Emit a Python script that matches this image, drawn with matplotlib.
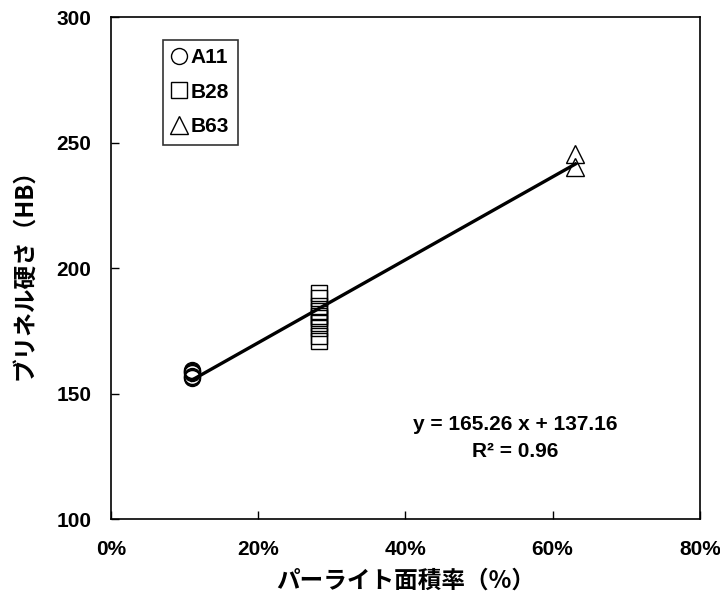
import numpy as np
import matplotlib.pyplot as plt
from matplotlib.ticker import PercentFormatter

plt.rcParams['font.family'] = ['Liberation Sans', 'Noto Sans CJK JP', 'DejaVu Sans']
plt.rcParams['font.weight'] = 'bold'

# Pearlite area ratio (fraction) and Brinell hardness per sample group
a11_ratio = [0.11] * 7
a11_hb = [156.0, 156.5, 157.0, 158.0, 158.5, 159.0, 159.5]

b28_ratio = [0.283] * 10
b28_hb = [171.0, 173.0, 176.0, 178.0, 180.0, 181.0, 183.0, 185.0, 188.0, 190.0]

b63_ratio = [0.631] * 2
b63_hb = [245.6, 240.4]

# Linear fit reported on the chart
slope = 165.26
intercept = 137.16
fit_range = [0.11, 0.631]

fig = plt.figure(figsize=(7.2, 6.01), dpi=100)
ax = fig.add_axes([0.154, 0.1364, 0.818, 0.8353])

ax.plot(a11_ratio, a11_hb, linestyle='none', marker='o', markersize=11.5,
        markerfacecolor='none', markeredgecolor='black', markeredgewidth=1.0, label='A11')
ax.plot(b28_ratio, b28_hb, linestyle='none', marker='s', markersize=11.5,
        markerfacecolor='none', markeredgecolor='black', markeredgewidth=1.0, label='B28')
ax.plot(b63_ratio, b63_hb, linestyle='none', marker='^', markersize=13,
        markerfacecolor='none', markeredgecolor='black', markeredgewidth=1.0, label='B63')

fitX = np.array(fit_range)
ax.plot(fitX, slope * fitX + intercept, color='black', linewidth=2.4)

ax.set_xlim(0, 0.8)
ax.set_ylim(100, 300)
ax.set_xticks([0, 0.2, 0.4, 0.6, 0.8])
ax.set_yticks([100, 150, 200, 250, 300])
ax.xaxis.set_major_formatter(PercentFormatter(xmax=1, decimals=0))
ax.tick_params(direction='in', length=6, width=1, labelsize=15)
ax.tick_params(axis='x', pad=15)
ax.tick_params(axis='y', pad=14)
for spine in ax.spines.values():
    spine.set_linewidth(1.2)

ax.set_xlabel('パーライト面積率（%）', fontsize=17, fontweight='bold',
              family=['Noto Sans CJK JP', 'DejaVu Sans'], labelpad=7)
ax.set_ylabel('ブリネル硬さ（HB）', fontsize=17, fontweight='bold',
              family=['Noto Sans CJK JP', 'DejaVu Sans'], labelpad=14)

ax.text(0.686, 0.161, 'y = 165.26 x + 137.16\nR² = 0.96', transform=ax.transAxes,
        ha='center', va='center', fontsize=15, fontweight='bold', linespacing=1.5)

legend = ax.legend(loc='upper left', bbox_to_anchor=(0.088, 0.955), frameon=True,
                   fancybox=False, edgecolor='black', fontsize=15, handlelength=0.8,
                   handletextpad=0.15, borderpad=0.4, labelspacing=0.75, borderaxespad=0)
legend.get_frame().set_linewidth(1.2)

fig.savefig('out.png', dpi=100)
